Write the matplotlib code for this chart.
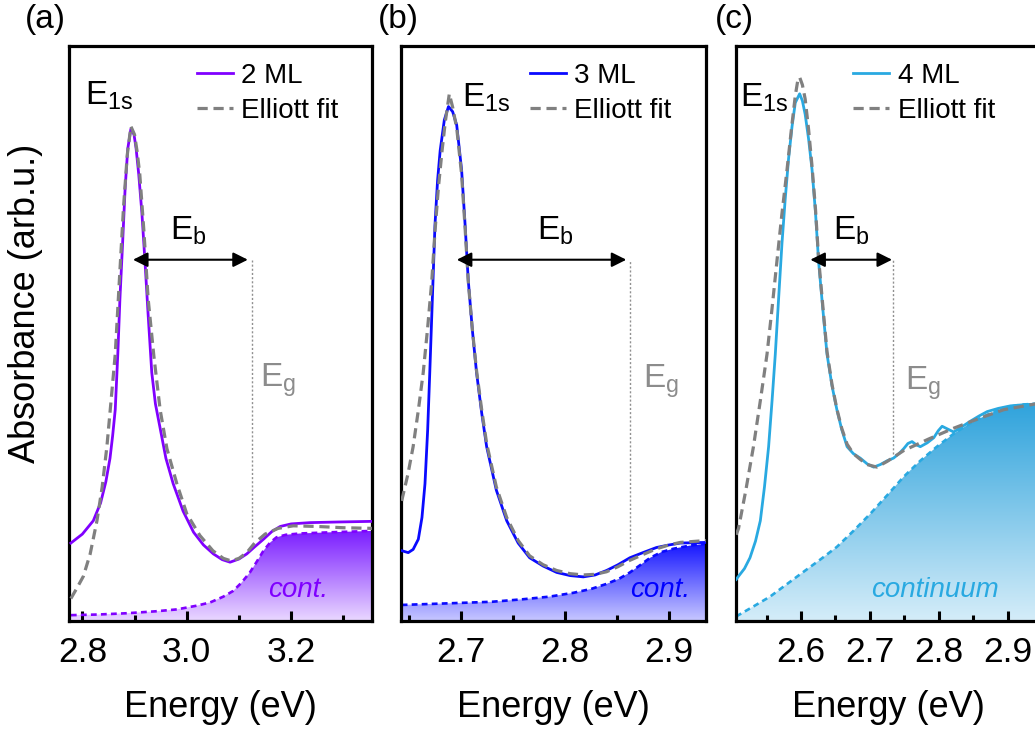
import numpy as np
import matplotlib
matplotlib.use("Agg")
import matplotlib.pyplot as plt
from matplotlib.colors import LinearSegmentedColormap
from matplotlib.ticker import MultipleLocator

plt.rcParams['font.family'] = ['Liberation Sans', 'DejaVu Sans']
plt.rcParams['mathtext.default'] = 'regular'

# ---- data (energy in eV, absorbance in arb. units) ----
# (a) 2 ML
e_2ml = [2.778, 2.800, 2.821, 2.835, 2.845, 2.853, 2.858, 2.863, 2.868, 2.872, 2.877, 2.882,
         2.887, 2.893, 2.899, 2.903, 2.908, 2.914, 2.920, 2.926, 2.933, 2.940, 2.949, 2.960,
         2.974, 2.993, 3.013, 3.032, 3.051, 3.068, 3.083, 3.100, 3.115, 3.130, 3.147, 3.163,
         3.179, 3.200, 3.236, 3.290, 3.355]
a_2ml = [0.222, 0.236, 0.257, 0.285, 0.318, 0.355, 0.390, 0.431, 0.520, 0.605, 0.690, 0.779,
         0.840, 0.871, 0.862, 0.840, 0.800, 0.740, 0.663, 0.580, 0.489, 0.440, 0.402, 0.355,
         0.315, 0.272, 0.239, 0.219, 0.205, 0.196, 0.192, 0.197, 0.205, 0.216, 0.228, 0.240,
         0.248, 0.252, 0.254, 0.255, 0.256]
e_fit2 = [2.778, 2.790, 2.802, 2.815, 2.828, 2.838, 2.847, 2.855, 2.863, 2.871, 2.879, 2.886,
          2.893, 2.900, 2.905, 2.910, 2.918, 2.926, 2.937, 2.949, 2.962, 2.981, 3.000, 3.025,
          3.050, 3.070, 3.085, 3.100, 3.115, 3.130, 3.150, 3.175, 3.204, 3.250, 3.300, 3.355]
a_fit2 = [0.135, 0.152, 0.170, 0.205, 0.257, 0.310, 0.373, 0.445, 0.518, 0.635, 0.750, 0.830,
          0.875, 0.862, 0.835, 0.800, 0.710, 0.605, 0.515, 0.431, 0.370, 0.315, 0.268, 0.234,
          0.210, 0.198, 0.194, 0.198, 0.207, 0.222, 0.236, 0.245, 0.249, 0.248, 0.246, 0.245]
e_cont2 = [2.778, 2.830, 2.885, 2.940, 2.981, 3.020, 3.045, 3.070, 3.089, 3.105, 3.121, 3.135,
           3.147, 3.160, 3.172, 3.190, 3.217, 3.280, 3.355]
a_cont2 = [0.109, 0.110, 0.112, 0.115, 0.118, 0.124, 0.129, 0.138, 0.147, 0.160, 0.176, 0.194,
           0.210, 0.223, 0.231, 0.235, 0.237, 0.239, 0.241]

# (b) 3 ML
e_3ml = [2.6430, 2.6493, 2.6540, 2.6590, 2.6625, 2.6654, 2.6680, 2.6700, 2.6725, 2.6750, 2.6775,
         2.6800, 2.6840, 2.6880, 2.6920, 2.6959, 2.7006, 2.7040, 2.7070, 2.7110, 2.7150, 2.7200,
         2.7247, 2.7340, 2.7440, 2.7550, 2.7660, 2.7790, 2.7920, 2.8050, 2.8176, 2.8290, 2.8400,
         2.8510, 2.8625, 2.8750, 2.8880, 2.9000, 2.9110, 2.9360]
a_3ml = [0.210, 0.207, 0.212, 0.228, 0.262, 0.315, 0.400, 0.489, 0.605, 0.720, 0.790,
         0.837, 0.885, 0.906, 0.898, 0.877, 0.807, 0.720, 0.634, 0.555, 0.489, 0.425,
         0.373, 0.305, 0.257, 0.222, 0.199, 0.186, 0.176, 0.171, 0.169, 0.172, 0.179,
         0.188, 0.199, 0.207, 0.215, 0.219, 0.222, 0.223]
e_fit3 = [2.6430, 2.6490, 2.6540, 2.6590, 2.6637, 2.6680, 2.6720, 2.6750, 2.6783, 2.6817, 2.6850,
          2.6888, 2.6920, 2.6960, 2.7006, 2.7040, 2.7070, 2.7110, 2.7150, 2.7200, 2.7247, 2.7340,
          2.7440, 2.7550, 2.7660, 2.7790, 2.7920, 2.8050, 2.8176, 2.8290, 2.8400, 2.8510, 2.8625,
          2.8750, 2.8880, 2.9000, 2.9110, 2.9360]
a_fit3 = [0.288, 0.330, 0.373, 0.430, 0.489, 0.560, 0.634, 0.710, 0.779, 0.835, 0.883,
          0.926, 0.905, 0.871, 0.800, 0.715, 0.632, 0.556, 0.492, 0.430, 0.378, 0.310,
          0.262, 0.226, 0.202, 0.188, 0.179, 0.174, 0.172, 0.173, 0.177, 0.185, 0.195,
          0.204, 0.213, 0.219, 0.223, 0.226]
e_cont3 = [2.6430, 2.6960, 2.7300, 2.7600, 2.7850, 2.8080, 2.8250, 2.8400, 2.8520, 2.8625, 2.8720,
           2.8820, 2.8930, 2.9040, 2.9200, 2.9360]
a_cont3 = [0.125, 0.128, 0.130, 0.134, 0.138, 0.144, 0.150, 0.158, 0.166, 0.176, 0.187,
           0.199, 0.208, 0.213, 0.218, 0.221]

# (c) 4 ML
e_4ml = [2.5060, 2.5094, 2.5180, 2.5260, 2.5340, 2.5410, 2.5470, 2.5530, 2.5580, 2.5627, 2.5675,
         2.5724, 2.5770, 2.5820, 2.5870, 2.5917, 2.5980, 2.6020, 2.6060, 2.6110, 2.6160, 2.6210,
         2.6255, 2.6315, 2.6377, 2.6450, 2.6520, 2.6590, 2.6668, 2.6760, 2.6860, 2.6960, 2.7054,
         2.7150, 2.7250, 2.7340, 2.7420, 2.7490, 2.7550, 2.7610, 2.7670, 2.7730, 2.7830, 2.7925,
         2.7990, 2.8046, 2.8120, 2.8215, 2.8330, 2.8457, 2.8580, 2.8700, 2.8860, 2.9038, 2.9250,
         2.9500]
a_4ml = [0.165, 0.170, 0.182, 0.199, 0.225, 0.257, 0.310, 0.373, 0.445, 0.518, 0.605,
         0.692, 0.760, 0.825, 0.875, 0.912, 0.926, 0.915, 0.894, 0.855, 0.807, 0.740,
         0.663, 0.590, 0.518, 0.468, 0.431, 0.400, 0.373, 0.362, 0.355, 0.346, 0.341,
         0.345, 0.351, 0.355, 0.362, 0.370, 0.378, 0.381, 0.376, 0.373, 0.379, 0.387,
         0.398, 0.405, 0.401, 0.396, 0.404, 0.413, 0.421, 0.428, 0.433, 0.437, 0.439,
         0.440]
e_fit4 = [2.5060, 2.5094, 2.5200, 2.5310, 2.5410, 2.5507, 2.5580, 2.5650, 2.5720, 2.5797, 2.5860,
          2.5917, 2.5950, 2.5980, 2.6020, 2.6060, 2.6110, 2.6160, 2.6210, 2.6255, 2.6315, 2.6377,
          2.6450, 2.6520, 2.6590, 2.6668, 2.6760, 2.6860, 2.6960, 2.7100, 2.7250, 2.7490, 2.7850,
          2.8215, 2.8600, 2.8940, 2.9500]
a_fit4 = [0.235, 0.245, 0.305, 0.373, 0.445, 0.518, 0.590, 0.663, 0.735, 0.807, 0.870,
          0.923, 0.945, 0.952, 0.940, 0.918, 0.870, 0.812, 0.745, 0.668, 0.595, 0.522,
          0.470, 0.432, 0.402, 0.377, 0.362, 0.353, 0.345, 0.341, 0.350, 0.367, 0.385,
          0.402, 0.418, 0.431, 0.442]
e_cont4 = [2.5060, 2.5300, 2.5550, 2.5800, 2.6050, 2.6290, 2.6520, 2.6760, 2.7006, 2.7250, 2.7490,
           2.7730, 2.7970, 2.8210, 2.8457, 2.8700, 2.8940, 2.9200, 2.9500]
a_cont4 = [0.107, 0.122, 0.138, 0.158, 0.178, 0.197, 0.216, 0.241, 0.268, 0.297, 0.326,
           0.351, 0.373, 0.393, 0.410, 0.423, 0.434, 0.439, 0.441]

# E_b arrows (start, end energy) and E_g line (energy, bottom of dotted line)
eb_start = [2.897, 2.696, 2.6135]
eb_end = [3.117, 2.859, 2.732]
eg_pos = [3.125, 2.863, 2.733]
eg_bottom = [0.231, 0.216, 0.362]
arrow_y = 0.666

labels = ['2 ML', '3 ML', '4 ML']
cont_text = ['cont.', 'cont.', 'continuum']
panel_tags = ['(a)', '(b)', '(c)']

y_lo, y_hi = 0.0999, 1.001

fig = plt.figure(figsize=(10.35, 7.34), dpi=100)
axes_rect = [[0.0667, 0.154, 0.2928, 0.7834],
             [0.3874, 0.154, 0.2947, 0.7834],
             [0.7111, 0.154, 0.2947, 0.7834]]
xlims = [(2.7745, 3.355), (2.6423, 2.9356), (2.5057, 2.948)]
majors = [0.2, 0.1, 0.1]
minors = [0.1, 0.05, 0.05]
line_colors = ['#8000ff', '#0a0aff', '#29a9e1']
fill_top = ['#7a1cff', '#1515ff', '#2fa3dc']
fill_bot = ['#ead8ff', '#c8c8ff', '#d5edf9']
text_colors = ['#7f00ff', '#0000ff', '#29a9e1']
e1s_xy = [(0.053, 0.898), (0.199, 0.894), (0.013, 0.894)]
eb_xy = [(0.333, 0.663), (0.445, 0.663), (0.319, 0.663)]
eg_xy = [(0.630, 0.408), (0.795, 0.406), (0.554, 0.403)]
cont_x = [0.756, 0.849, 0.652]
leg_x = [0.422, 0.423, 0.384]

data = [(e_2ml, a_2ml, e_fit2, a_fit2, e_cont2, a_cont2),
        (e_3ml, a_3ml, e_fit3, a_fit3, e_cont3, a_cont3),
        (e_4ml, a_4ml, e_fit4, a_fit4, e_cont4, a_cont4)]

for i in range(3):
    ex, ay, ef, af, ec, ac = data[i]
    ax = fig.add_axes(axes_rect[i])

    # gradient-filled continuum
    poly = ax.fill_between(ec, y_lo, ac, color='none', lw=0)
    cmap = LinearSegmentedColormap.from_list('g%d' % i, [fill_bot[i], fill_top[i]])
    grad = np.linspace(0, 1, 256).reshape(-1, 1)
    im = ax.imshow(grad, extent=[ec[0], ec[-1], y_lo, max(ac)], origin='lower',
                   cmap=cmap, aspect='auto', zorder=1)
    im.set_clip_path(poly.get_paths()[0], transform=ax.transData)
    ax.plot(ec, ac, color=line_colors[i], lw=1.9, ls=(0, (2.2, 1.6)), zorder=2)

    l1, = ax.plot(ex, ay, color=line_colors[i], lw=2.0, zorder=3)
    l2, = ax.plot(ef, af, color='#808080', lw=2.3, ls=(0, (3.2, 1.8)), zorder=4)

    ax.annotate('', xy=(eb_end[i], arrow_y), xytext=(eb_start[i], arrow_y),
                arrowprops=dict(arrowstyle='<|-|>', color='black', lw=1.5,
                                mutation_scale=22, shrinkA=0, shrinkB=0), zorder=5)
    ax.plot([eg_pos[i], eg_pos[i]], [eg_bottom[i], arrow_y], color='#909090',
            lw=1.0, ls=(0, (1.5, 1.5)), zorder=2)

    ax.text(*e1s_xy[i], 'E$_{1s}$', transform=ax.transAxes, fontsize=24,
            ha='left', va='baseline')
    ax.text(*eb_xy[i], 'E$_{b}$', transform=ax.transAxes, fontsize=24,
            ha='left', va='baseline')
    ax.text(*eg_xy[i], 'E$_{g}$', transform=ax.transAxes, fontsize=24,
            ha='left', va='baseline', color='#8c8c8c')
    ax.text(cont_x[i], 0.053, cont_text[i], transform=ax.transAxes, fontsize=20,
            style='italic', color=text_colors[i], ha='center', va='center')

    ax.legend([l1, l2], [labels[i], 'Elliott fit'], loc='upper left',
              bbox_to_anchor=(leg_x[i], 0.971), frameon=False, fontsize=20,
              handlelength=1.3, handletextpad=0.3, labelspacing=0.32,
              borderpad=0, borderaxespad=0)

    ax.set_xlim(*xlims[i])
    ax.set_ylim(y_lo, y_hi)
    ax.xaxis.set_major_locator(MultipleLocator(majors[i]))
    ax.xaxis.set_minor_locator(MultipleLocator(minors[i]))
    ax.xaxis.set_major_formatter(plt.FormatStrFormatter('%.1f'))
    ax.tick_params(axis='x', which='both', direction='in', top=False,
                   labelsize=25.5, pad=11, width=2.2)
    ax.tick_params(axis='x', which='major', length=7.5)
    ax.tick_params(axis='x', which='minor', length=4)
    ax.tick_params(axis='y', which='both', left=False, labelleft=False)
    for sp in ax.spines.values():
        sp.set_linewidth(2.3)
    ax.set_xlabel('Energy (eV)', fontsize=26, labelpad=15)

    fig.text([0.0435, 0.3845, 0.710][i], 0.973, panel_tags[i], fontsize=24,
             ha='center', va='center')

fig.text(0.025, 0.587, 'Absorbance (arb.u.)', rotation=90, fontsize=26,
         ha='center', va='center')

plt.savefig('out.png', dpi=100)
